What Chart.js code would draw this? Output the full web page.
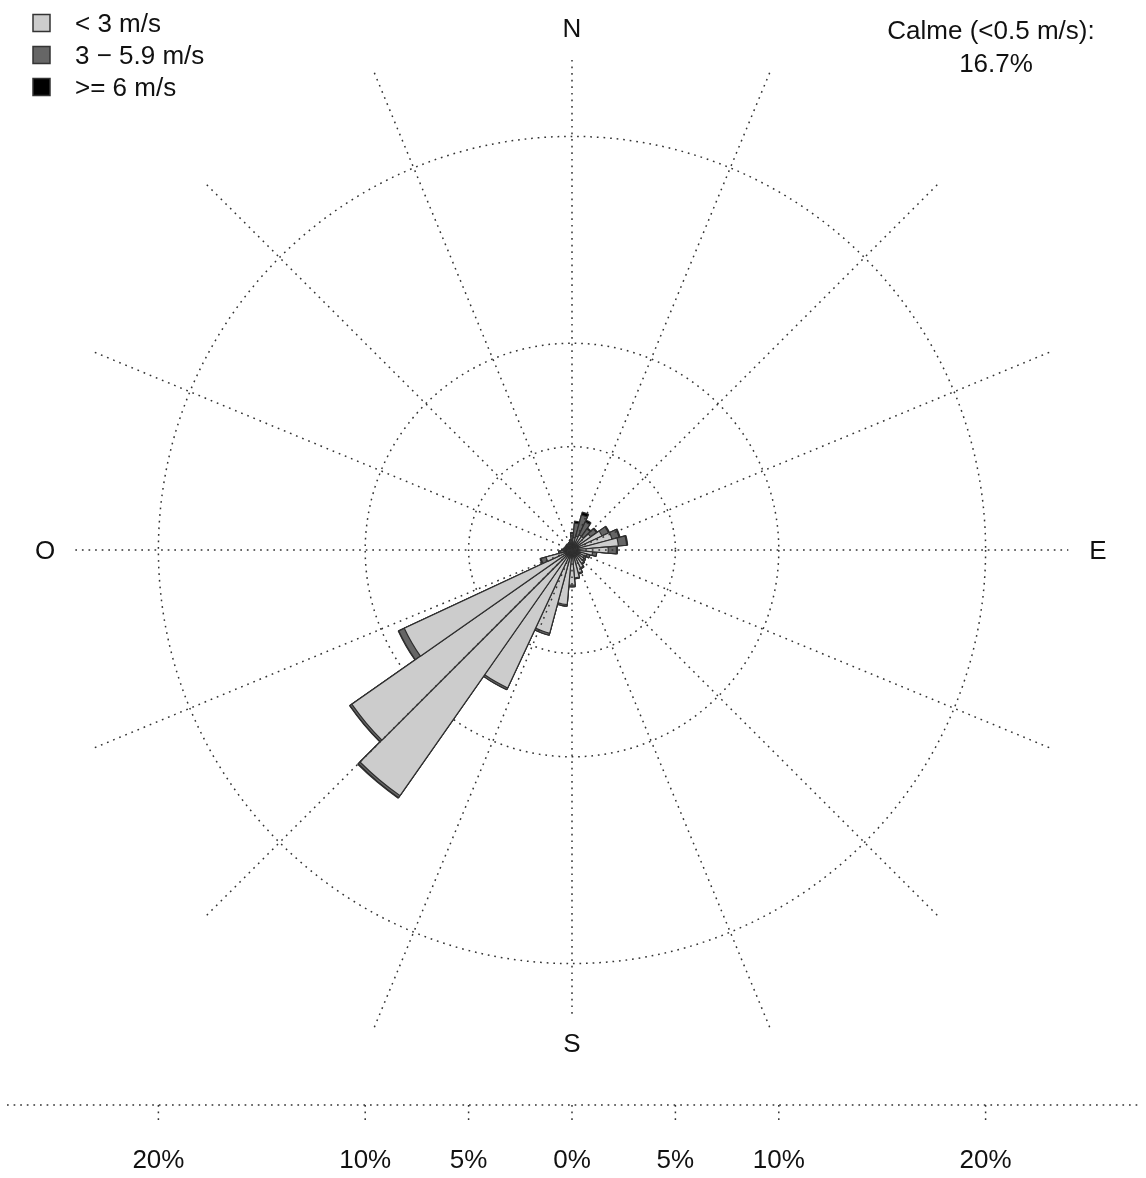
<!DOCTYPE html>
<html>
<head>
<meta charset="utf-8">
<title>Rose des vents</title>
<script src="https://cdn.jsdelivr.net/npm/chart.js@4/dist/chart.umd.min.js"></script>
<style>
  html, body { margin: 0; padding: 0; background: #ffffff; }
  #wrap { width: 1146px; height: 1178px; position: relative; }
</style>
</head>
<body>
<div id="wrap"><canvas id="rose"></canvas></div>
<script>
// Wind directions (degrees from north, 10° sectors)
const directions = [0, 10, 20, 30, 40, 50, 60, 70, 80, 90, 100, 110, 120, 130, 140, 150, 160, 170,
                    180, 190, 200, 210, 220, 230, 240, 250, 260, 270, 280, 290, 300, 310, 320, 330, 340, 350];

// Frequency (% of time) per direction and speed class
const slowShare   = [0.45, 0.60, 0.70, 0.80, 0.80, 1.10, 1.60, 2.00, 2.25, 1.75, 1.00, 0.75, 0.65, 0.70, 0.80, 0.95, 1.15, 1.35,
                     1.70, 2.65, 4.17, 7.36, 14.50, 13.00, 8.95, 1.30, 0.55, 0.40, 0.35, 0.30, 0.30, 0.30, 0.30, 0.30, 0.35, 0.40];
const mediumShare = [0.35, 0.70, 1.05, 0.70, 0.45, 0.35, 0.35, 0.35, 0.40, 0.40, 0.20, 0.15, 0.10, 0.10, 0.05, 0.05, 0.05, 0.05,
                     0.08, 0.08, 0.10, 0.10, 0.12, 0.11, 0.30, 0.25, 0.10, 0.10, 0.05, 0.05, 0.05, 0.05, 0.05, 0.05, 0.05, 0.10];
const fastShare   = [0.05, 0.10, 0.15, 0.10, 0.05, 0.05, 0.05, 0.05, 0.05, 0.05, 0.00, 0.00, 0.00, 0.00, 0.00, 0.00, 0.00, 0.00,
                     0.00, 0.00, 0.00, 0.00, 0.03, 0.02, 0.02, 0.05, 0.00, 0.00, 0.00, 0.00, 0.00, 0.00, 0.00, 0.00, 0.00, 0.00];

const speedClasses = ['< 3 m/s', '3 \u2212 5.9 m/s', '>= 6 m/s'];
const ringLevels = [5, 10, 20];
const calmLabel = 'Calme (<0.5 m/s):';
const calmShare = '16.7%';
const compassPoints = ['N', 'E', 'S', 'O'];

// Styling
const classColors = ['#cccccc', '#666666', '#000000'];
const outline = '#2e2e2e';
const dotted = [1.7, 4.9];
const dotColor = '#333333';
const dotWidth = 1.5;
const font = '26px "Liberation Sans", Arial, Helvetica, sans-serif';
const maxReach = 25;
const spokeReach = [23.9, 25, 25, 25, 24.0, 25, 25, 25, 22.6, 25, 25, 25, 24.1, 25, 25, 25];

// Stacked sectors: each dataset holds the running total, smallest drawn on top
const cumMedium = slowShare.map((v, i) => v + mediumShare[i]);
const cumAll = cumMedium.map((v, i) => v + fastShare[i]);

const decor = {
  id: 'roseDecor',
  afterDatasetsDraw(chart) {
    const ctx = chart.ctx;
    const r = chart.scales.r;
    const cx = r.xCenter, cy = r.yCenter;
    ctx.save();
    ctx.setLineDash(dotted);
    ctx.lineWidth = dotWidth;
    ctx.strokeStyle = dotColor;
    spokeReach.forEach((reach, k) => {
      const a = k * 22.5 * Math.PI / 180;
      const d = r.getDistanceFromCenterForValue(reach);
      ctx.beginPath();
      ctx.moveTo(cx, cy);
      ctx.lineTo(cx + Math.sin(a) * d, cy - Math.cos(a) * d);
      ctx.stroke();
    });
    ctx.restore();
  },
  afterDraw(chart) {
    const ctx = chart.ctx;
    const r = chart.scales.r;
    const cx = r.xCenter, cy = r.yCenter;
    ctx.save();
    ctx.font = font;
    ctx.fillStyle = '#111111';
    ctx.textBaseline = 'middle';
    ctx.textAlign = 'center';

    // compass labels
    ctx.fillText(compassPoints[0], cx, cy - 520);
    ctx.fillText(compassPoints[2], cx, cy + 495);
    ctx.fillText(compassPoints[1], cx + 526, cy + 2);
    ctx.fillText(compassPoints[3], cx - 527, cy + 2);

    // calm share
    ctx.fillText(calmLabel, 991, 32);
    ctx.fillText(calmShare, 996, 65);

    // legend
    ctx.textAlign = 'left';
    speedClasses.forEach((name, i) => {
      const y = 23 + i * 32;
      ctx.fillStyle = classColors[i];
      ctx.fillRect(33, y - 8.5, 17, 17);
      ctx.strokeStyle = '#333333';
      ctx.lineWidth = 1.5;
      ctx.strokeRect(33, y - 8.5, 17, 17);
      ctx.fillStyle = '#111111';
      ctx.fillText(name, 75, y + 2);
    });

    // percentage scale below the rose
    const axisY = 1105;
    ctx.setLineDash(dotted);
    ctx.strokeStyle = dotColor;
    ctx.lineWidth = dotWidth;
    ctx.beginPath();
    ctx.moveTo(7, axisY);
    ctx.lineTo(1141, axisY);
    ctx.stroke();
    ctx.textAlign = 'center';
    const levels = [0, ...ringLevels];
    levels.forEach(v => {
      const d = r.getDistanceFromCenterForValue(v);
      const xs = v === 0 ? [cx] : [cx - d, cx + d];
      xs.forEach(x => {
        ctx.beginPath();
        ctx.moveTo(x, axisY);
        ctx.lineTo(x, axisY + 17);
        ctx.stroke();
        ctx.fillText(v + '%', x, 1161);
      });
    });
    ctx.restore();
  }
};

new Chart(document.getElementById('rose'), {
  type: 'polarArea',
  data: {
    labels: directions,
    datasets: [
      { label: speedClasses[0], data: slowShare, backgroundColor: classColors[0], borderColor: outline, borderWidth: 1.2 },
      { label: speedClasses[1], data: cumMedium, backgroundColor: classColors[1], borderColor: outline, borderWidth: 1.2 },
      { label: speedClasses[2], data: cumAll, backgroundColor: classColors[2], borderColor: outline, borderWidth: 1.2 }
    ]
  },
  options: {
    responsive: true,
    maintainAspectRatio: false,
    animation: false,
    layout: { padding: { left: 54, right: 56, top: 33, bottom: 110 } },
    plugins: { legend: { display: false }, tooltip: { enabled: false } },
    scales: {
      r: {
        min: 0,
        max: maxReach,
        startAngle: -5,
        z: 1,
        afterBuildTicks: (scale) => { scale.ticks = [0, ...ringLevels].map(v => ({ value: v })); },
        ticks: { display: false },
        pointLabels: { display: false },
        angleLines: { display: false },
        grid: { circular: true, color: dotColor, lineWidth: dotWidth },
        border: { dash: dotted }
      }
    }
  },
  plugins: [decor]
});
</script>
</body>
</html>
